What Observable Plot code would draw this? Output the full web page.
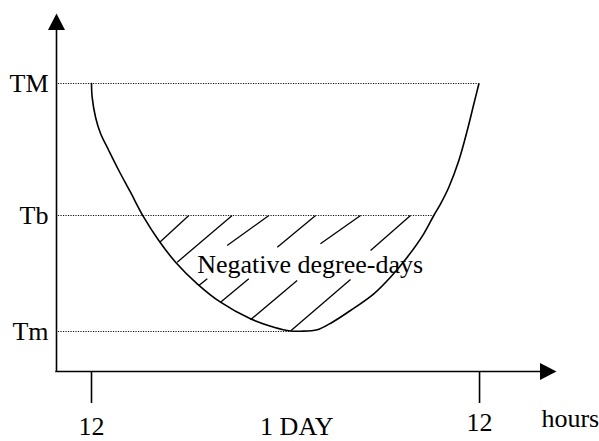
<!DOCTYPE html>
<html>
<head>
<meta charset="utf-8">
<script src="https://cdn.jsdelivr.net/npm/d3@7"></script>
<script src="https://cdn.jsdelivr.net/npm/@observablehq/plot@0.6"></script>
<style>
  html, body { margin: 0; padding: 0; background: #fff; }
  #chart svg { display: block; }
</style>
</head>
<body>
<div id="chart"></div>
<script>
// Daily temperature curve (x: hours from noon, y: arbitrary temperature units)
const hours = [0, 0.04, 0.25, 0.56, 1.07, 1.69, 2.41, 3.23, 4.16, 5.20, 6.54, 7.98, 9.83, 11.28, 12.31,
               12.93, 13.96, 14.9, 16.02, 17.46, 18.49, 19.53, 20.55, 21.17, 21.59, 22.10, 22.72, 23.24, 23.65, 23.96];
const temps = [28.8, 27.43, 25.43, 23.8, 22.1, 20.1, 17.93, 15.43, 13.1, 10.93, 8.77, 6.93, 5.27, 4.43, 4.05,
               4.03, 4.17, 4.93, 6.1, 7.77, 9.43, 11.43, 13.77, 15.6, 16.77, 18.43, 21.1, 24.1, 26.77, 28.77];

// Reference temperature levels
const levelNames = ["TM", "Tb", "Tm"];
const levelValues = [28.8, 15.6, 4.0];
const levelEnds = [23.96, 21.2, 12.31]; // where each dotted line meets the curve

// Hatching segments of the negative degree-days area
const hatchX1 = [4.22, 5.30, 8.39, 11.49, 14.16, 17.26, 6.64, 7.98, 9.83, 12.31];
const hatchY1 = [12.93, 10.93, 12.6, 12.43, 12.77, 12.1, 8.6, 6.93, 5.17, 4.05];
const hatchX2 = [6.02, 8.70, 10.97, 13.86, 16.64, 19.73, 7.16, 9.73, 12.72, 16.02];
const hatchY2 = [15.6, 15.6, 15.6, 15.6, 15.6, 15.6, 9.27, 9.27, 9.1, 9.2];

// X axis ticks and labels
const xTicks = [0, 24];
const xLabelsLow = ["12", "1 DAY"];
const xLabelsLowPos = [0, 12.7];
const xLabelsHigh = ["12"];
const xLabelsHighPos = [24];
const unitLabel = "hours";
const unitPos = 27.83;

const areaLabel = "Negative degree-days";
const areaLabelPos = {x: 13.52, y: 9.9};

const xDomain = [-2.165, 28.76];
const yDomain = [0, 35.8];

const font = "'Liberation Serif', 'Times New Roman', serif";
const fs = 26;

const arrowHead = {
  draw(context) {
    context.moveTo(0, 0);
    context.lineTo(8.5, 16.5);
    context.lineTo(-8.5, 16.5);
    context.closePath();
  }
};

const curve = hours.map((h, i) => ({h, t: temps[i]}));
const levels = levelNames.map((n, i) => ({name: n, value: levelValues[i], end: levelEnds[i]}));
const hatch = hatchX1.map((x, i) => ({x1: x, y1: hatchY1[i], x2: hatchX2[i], y2: hatchY2[i]}));
const levelMap = new Map(levels.map(d => [d.value, d.name]));

const chart = Plot.plot({
  width: 599,
  height: 441,
  marginLeft: 56,
  marginRight: 43,
  marginTop: 13,
  marginBottom: 70,
  style: {fontFamily: font, background: "#fff", overflow: "visible"},
  x: {domain: xDomain, axis: null},
  y: {domain: yDomain, axis: null},
  marks: [
    // dotted reference lines
    Plot.ruleY(levels, {y: "value", x1: xDomain[0] + 0.12, x2: "end", stroke: "#111", strokeWidth: 1.1, strokeDasharray: "1.2,1.3"}),
    // y-axis labels
    Plot.axisY(levelValues, {tickSize: 0, tickPadding: 8, tickFormat: d => levelMap.get(d), fontSize: fs, fill: "#000", label: null}),
    // hatching
    Plot.link(hatch, {x1: "x1", y1: "y1", x2: "x2", y2: "y2", stroke: "#000", strokeWidth: 1.3}),
    // curve
    Plot.line(curve, {x: "h", y: "t", curve: "catmull-rom", stroke: "#000", strokeWidth: 1.6}),
    // axes lines
    Plot.ruleX([xDomain[0]], {y1: yDomain[0], y2: yDomain[1] - 1, stroke: "#000", strokeWidth: 1.6}),
    Plot.ruleY([yDomain[0]], {x1: xDomain[0], x2: xDomain[1] - 1, stroke: "#000", strokeWidth: 1.6, strokeLinecap: "square"}),
    // arrow heads
    Plot.dot([0], {x: xDomain[0], y: yDomain[1], symbol: arrowHead, fill: "#000", stroke: null}),
    Plot.dot([0], {x: xDomain[1], y: yDomain[0], symbol: arrowHead, rotate: 90, fill: "#000", stroke: null}),
    // x ticks
    Plot.axisX(xTicks, {tickSize: 32, tickFormat: () => "", strokeWidth: 1.6, label: null}),
    // x labels
    Plot.text(xLabelsLow, {x: (d, i) => xLabelsLowPos[i], frameAnchor: "bottom", lineAnchor: "bottom", dy: 63, fontSize: fs, fill: "#000", text: d => d}),
    Plot.text(xLabelsHigh, {x: (d, i) => xLabelsHighPos[i], frameAnchor: "bottom", lineAnchor: "bottom", dy: 59, fontSize: fs, fill: "#000", text: d => d}),
    Plot.text([unitLabel], {x: unitPos, frameAnchor: "bottom", lineAnchor: "bottom", dy: 55, textAnchor: "start", fontSize: fs, fill: "#000", text: d => d}),
    // area label
    Plot.text([areaLabel], {x: areaLabelPos.x, y: areaLabelPos.y, lineAnchor: "bottom", fontSize: fs, fill: "#000", text: d => d})
  ]
});

document.getElementById("chart").appendChild(chart);
</script>
</body>
</html>
